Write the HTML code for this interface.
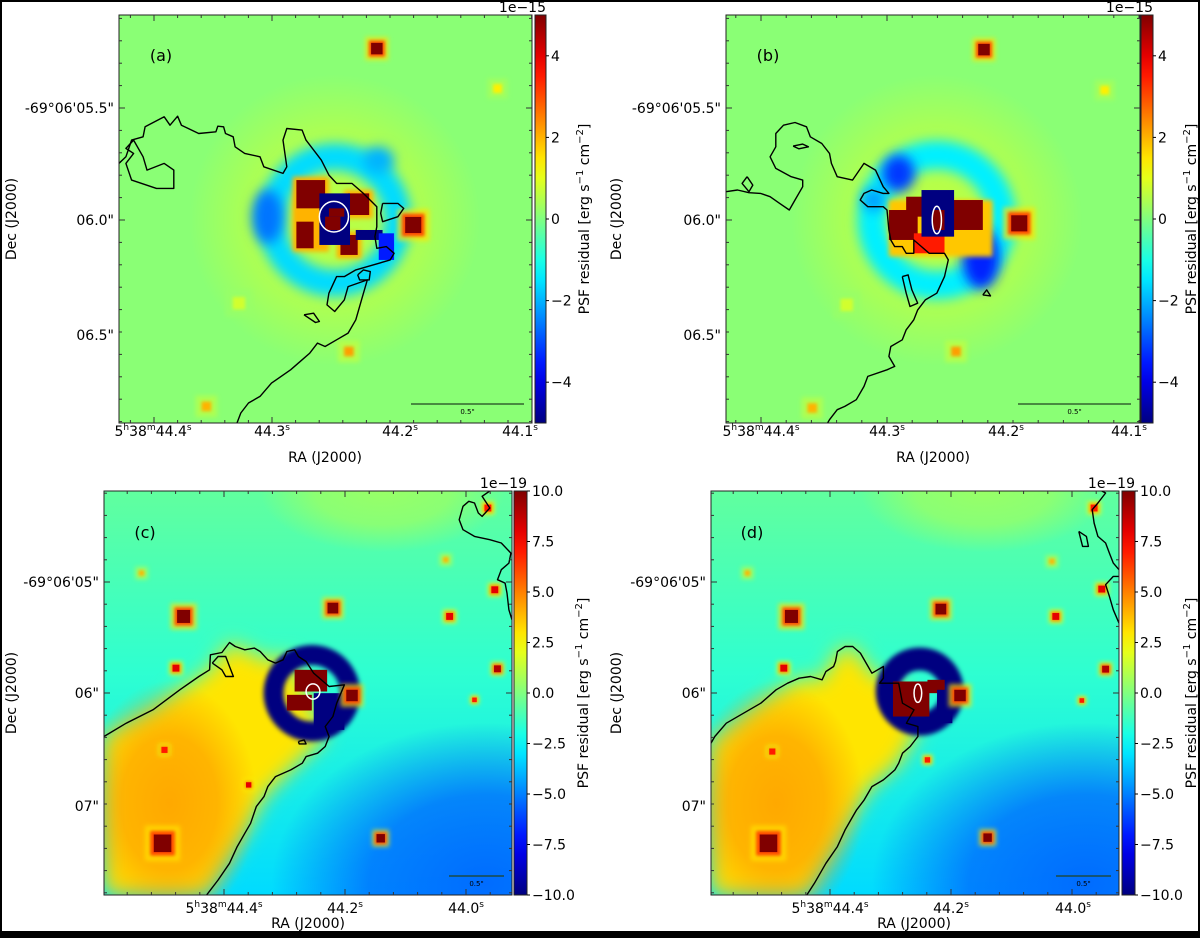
<!DOCTYPE html>
<html><head><meta charset="utf-8">
<style>
html,body{margin:0;padding:0;background:#fff;width:1200px;height:938px;overflow:hidden;}
#wrap{position:relative;width:1200px;height:938px;overflow:hidden;}
#fig{display:block;}
svg text{font-family:"DejaVu Sans","Liberation Sans",sans-serif;fill:#000;}
</style></head>
<body>
<div id="wrap">
<svg id="fig" width="1200" height="938" viewBox="0 0 1200 938" xmlns="http://www.w3.org/2000/svg">
<defs>
<filter id="blur6" x="-50%" y="-50%" width="200%" height="200%"><feGaussianBlur stdDeviation="6"/></filter>
<filter id="blur10" x="-10%" y="-10%" width="120%" height="120%"><feGaussianBlur stdDeviation="10"/></filter>
<filter id="blur3" x="-50%" y="-50%" width="200%" height="200%"><feGaussianBlur stdDeviation="2.5"/></filter>
<filter id="blur2" x="-50%" y="-50%" width="200%" height="200%"><feGaussianBlur stdDeviation="1.5"/></filter>
</defs>
</svg>
</div>
<script>
// ---------- data (sky-grid coordinates of the reference pixel grid) ----------
const aStars=[[985,145,30,5],[1080,675,42,5],[1300,265,26,1.4],[625,910,36,0.8],[912,1055,28,2.2],[540,1220,28,2.0]];
const aBlocks=[[765,530,860,755,2],[900,570,975,655,2],[880,695,945,775,2],[775,540,850,625,5],[910,580,965,645,5],[775,665,820,745,5],[890,705,935,765,5],[835,580,915,735,-5],[860,625,900,650,5],[850,650,890,690,5],[930,690,1000,720,-5],[990,700,1030,780,-3.5]];
const aRing=[875,660,165,70,-1.6];
const aBlobs=[[700,650,40,70,-2.6],[990,480,40,35,-2]];
const aContours=[
[[312,490],[330,470],[345,420],[375,410],[380,380],[430,350],[445,375],[465,348],[475,375],[520,400],[565,395],[570,378],[585,380],[590,400],[610,410],[615,440],[640,460],[680,470],[690,500],[740,520],[750,500],[740,420],[750,385],[790,390],[800,420],[840,480],[860,525],[880,550],[920,550],[950,580],[985,620],[985,680],[980,710],[985,745],[1010,740],[1030,760],[1020,780],[990,790],[930,810],[900,830],[880,830],[860,880],[855,915],[875,935],[900,900],[910,860],[960,840],[945,900],[930,960],[910,1000],[880,1020],[850,1040],[830,1030],[810,1060],[790,1080],[760,1110],[710,1150],[680,1190],[650,1210],[630,1240],[620,1270]],
[[350,420],[330,445],[350,460],[330,490],[345,540],[410,565],[455,565],[455,510],[430,490],[385,510],[375,470],[350,420]],
[[1000,610],[1040,610],[1055,625],[1040,650],[1000,665],[995,640],[1000,610]],
[[935,825],[950,810],[968,815],[965,840],[940,840],[935,825]],
[[795,945],[820,940],[835,965],[825,968],[795,945]]
];
const aWhite=[[873,650,38,40]];

const bStars=[[1003,148,30,5],[1095,670,42,5],[1318,270,26,1.4],[645,915,36,0.8],[930,1055,28,2.2],[555,1225,28,2.0]];
const bBlocks=[[755,600,1025,770,1.8],[755,630,830,720,5],[800,590,870,650,5],[900,600,1000,690,5],[820,700,900,760,3.5],[840,570,925,710,-5],[870,630,900,690,5]];
const bRing=[880,660,170,75,-1.4];
const bBlobs=[[780,520,42,48,-3.2],[995,775,48,80,-3.4],[715,600,30,30,-2.2]];
const bContours=[
[[330,575],[360,570],[390,578],[420,580],[445,590],[470,610],[495,630],[510,600],[530,560],[530,540],[500,530],[460,505],[445,470],[460,440],[460,400],[480,375],[510,367],[540,380],[550,410],[580,430],[600,460],[605,490],[620,530],[660,540],[690,490],[720,510],[740,560],[755,580],[740,580],[710,570],[690,580],[680,600],[700,620],[740,620],[750,630],[755,690],[760,720],[770,740],[790,740],[800,760],[820,760],[820,720],[840,740],[860,760],[900,760],[910,780],[900,830],[880,880],[850,900],[830,930],[820,960],[800,990],[790,1020],[760,1040],[755,1070],[770,1100],[750,1110],[700,1130],[690,1160],[670,1200],[640,1220],[620,1230],[600,1260],[595,1270]],
[[505,438],[530,432],[545,440],[520,446],[505,438]],
[[385,530],[400,555],[390,575],[372,550],[385,530]],
[[790,830],[805,825],[815,870],[830,910],[810,920],[800,880],[790,830]],
[[1000,885],[1010,870],[1020,888],[1000,885]]
];
const bWhite=[[880,660,12,36]];

const cStars=[[480,440,34,10],[870,415,28,10],[1175,440,18,8],[460,595,18,8],[1300,597,18,9],[1293,360,18,8],[1275,115,18,7],[1165,270,16,4],[370,310,16,4],[1240,690,12,7],[995,1105,22,10],[425,1120,46,10],[920,677,30,10],[650,945,14,8],[430,840,16,7]];
const cRing=[815,670,100,52,-10];
const cBlocks=[[770,600,855,665,10],[750,675,815,722,10],[820,670,900,780,-10]];
const cOrange=[[272,800],[400,720],[470,660],[548,600],[600,520],[700,570],[760,560],[850,800],[760,900],[690,980],[640,1090],[540,1275],[272,1275]];
const cContours=[
[[272,800],[330,760],[400,720],[470,660],[520,620],[548,600],[550,555],[580,548],[600,518],[615,530],[640,540],[665,535],[680,545],[700,570],[720,580],[740,570],[750,545],[770,540],[780,560],[800,575],[820,610],[860,650],[900,645],[880,700],[870,740],[850,770],[860,800],[850,830],[830,850],[800,860],[790,880],[760,900],[720,920],[700,950],[690,980],[670,1010],[655,1060],[640,1090],[620,1130],[600,1180],[570,1230],[540,1275]],
[[555,580],[570,560],[590,560],[600,590],[610,620],[590,620],[580,600],[555,580]],
[[1338,450],[1330,420],[1325,370],[1320,340],[1300,330],[1310,300],[1330,280],[1335,250],[1310,220],[1280,210],[1240,200],[1210,180],[1200,150],[1210,110],[1225,95],[1240,100],[1250,130],[1260,140],[1280,115],[1260,80],[1280,64]],
[[780,815],[795,810],[800,822],[782,822],[780,815]]
];
const cWhite=[[818,665,18,20]];

const dStars=[[500,440,34,10],[890,418,28,10],[1190,440,18,8],[480,595,18,8],[1320,598,18,9],[1310,358,18,8],[1290,115,18,7],[1180,275,16,4],[385,310,16,4],[1258,692,12,7],[1012,1103,22,10],[440,1120,46,10],[940,677,30,10],[855,870,14,7],[450,845,16,7]];
const dRing=[835,665,85,60,-10];
const dBlocks=[[765,635,860,740,10],[855,630,900,670,10],[880,660,920,760,-10]];
const dOrange=[[290,820],[420,700],[520,625],[580,630],[620,545],[660,530],[710,610],[780,640],[830,780],[780,880],[700,960],[640,1080],[540,1275],[290,1275]];
const dContours=[
[[290,820],[300,800],[330,760],[420,700],[460,660],[490,640],[520,625],[550,620],[580,630],[590,605],[610,590],[615,575],[620,545],[640,530],[660,530],[680,550],[700,590],[710,610],[740,590],[740,625],[730,640],[780,640],[790,700],[820,720],[800,760],[830,770],[830,800],[810,830],[790,850],[780,880],[770,900],[740,930],[710,950],[690,990],[670,1020],[660,1040],[640,1080],[620,1130],[590,1180],[560,1240],[540,1275]],
[[1355,460],[1340,420],[1330,380],[1320,345],[1340,320],[1355,320]],
[[1355,300],[1340,280],[1330,250],[1320,220],[1300,200],[1290,160],[1285,120],[1300,100],[1320,70],[1310,64]],
[[1250,185],[1260,230],[1275,230],[1270,200],[1250,185]]
];
const dWhite=[[830,670,10,24]];

// tick labels
const topYLabels=["-69°06'05.5\"","06.0\"","06.5\""];
const botYLabels=["-69°06'05\"","06\"","07\""];
const topXLabels=[["5","h","38","m","44.4","s"],["44.3","s"],["44.2","s"],["44.1","s"]];
const botXLabels=[["5","h","38","m","44.4","s"],["44.2","s"],["44.0","s"]];
const topCbTicks=[4,2,0,-2,-4];
const topCbLabels=["4","2","0","\u22122","\u22124"];
const botCbTicks=[10,7.5,5,2.5,0,-2.5,-5,-7.5,-10];
const botCbLabels=["10.0","7.5","5.0","2.5","0.0","\u22122.5","\u22125.0","\u22127.5","\u221210.0"];

// ---------- helpers ----------
const NS='http://www.w3.org/2000/svg';
const svg=document.getElementById('fig');
function jet(t){t=Math.max(0,Math.min(1,t));
 const c=v=>Math.round(255*Math.max(0,Math.min(1,v)));
 return `rgb(${c(1.5-Math.abs(4*t-3))},${c(1.5-Math.abs(4*t-2))},${c(1.5-Math.abs(4*t-1))})`;}
function mk(tag,attrs,parent){const e=document.createElementNS(NS,tag);for(const k in attrs)e.setAttribute(k,attrs[k]);(parent||svg).appendChild(e);return e;}

const panels=[
 {id:'a',box:[119,15,413,408],z:[312,1390,44,1270],vmax:5,stars:aStars,blocks:aBlocks,ring:aRing,blobs:aBlobs,contours:aContours,white:aWhite,top:true,cb:[535,11],
  yt:[108,220,335],xt:[154,272,400,520],xl:[153,272,400,520],cbl:584,decx:11,rax:325,tag:'(a)',tagpos:[161,55],sb:[411,524,404]},
 {id:'b',box:[726,15,414,408],z:[330,1410,44,1270],vmax:5,stars:bStars,blocks:bBlocks,ring:bRing,blobs:bBlobs,contours:bContours,white:bWhite,top:true,cb:[1141,12],
  yt:[108,220,335],xt:[761,887,1006,1129],xl:[761,887,1006,1129],cbl:1191,decx:616,rax:933,tag:'(b)',tagpos:[768,55],sb:[1018,1131,404]},
 {id:'c',box:[104,491,408,404],z:[272,1338,64,1275],vmax:10,stars:cStars,blocks:cBlocks,ring:cRing,orange:cOrange,contours:cContours,white:cWhite,top:false,cb:[514,13],
  yt:[582,693,806],xt:[224,345,466],xl:[224,345,466],cbl:583,decx:11,rax:308,tag:'(c)',tagpos:[145,532],sb:[449,504,876]},
 {id:'d',box:[711,491,408,404],z:[290,1355,64,1275],vmax:10,stars:dStars,blocks:dBlocks,ring:dRing,orange:dOrange,contours:dContours,white:dWhite,top:false,cb:[1122,13],
  yt:[582,693,806],xt:[830,951,1073],xl:[830,951,1073],cbl:1191,decx:616,rax:914,tag:'(d)',tagpos:[752,532],sb:[1056,1111,876]}
];

// frame
const fr=mk('rect',{x:1,y:1,width:1198,height:931,fill:'none',stroke:'#000','stroke-width':2});


const bb=mk('rect',{x:0,y:933,width:1200,height:5,fill:'#000'});



panels.forEach(p=>{
 const [bx,by,bw,bh]=p.box,[zx0,zx1,zy0,zy1]=p.z;
 const sx=v=>bx+(v-zx0)/(zx1-zx0)*bw;
 const sy=v=>by+(v-zy0)/(zy1-zy0)*bh;
 const sl=v=>v/(zx1-zx0)*bw;
 const col=v=>jet((v+p.vmax)/(2*p.vmax));
 const g=mk('g',{});
 
 
 const cp=mk('clipPath',{id:'clip'+p.id},g);
 mk('rect',{x:bx,y:by,width:bw,height:bh},cp);
 const img=mk('g',{'clip-path':`url(#clip${p.id})`},g);
 
 
 // soft radial field layer inside image box (never extends outside)
 let rgid=0;
 function soft(cx,cy,rx,ry,color,op,name){
  const id='rg'+p.id+(rgid++);
  const gr=mk('radialGradient',{id:id,gradientUnits:'userSpaceOnUse',cx:cx,cy:cy,r:rx,gradientTransform:`translate(${cx},${cy}) scale(1,${ry/rx}) translate(${-cx},${-cy})`},g);
  mk('stop',{offset:0,'stop-color':color,'stop-opacity':op},gr);
  mk('stop',{offset:0.55,'stop-color':color,'stop-opacity':op*0.8},gr);
  mk('stop',{offset:1,'stop-color':color,'stop-opacity':0},gr);
  const r=mk('rect',{x:bx,y:by,width:bw,height:bh,fill:`url(#${id})`},img);
  
  
 }
 if(p.top){
  mk('rect',{x:bx,y:by,width:bw,height:bh,fill:col(0.1)},img);
  soft(sx(p.ring[0]),sy(p.ring[1]),sl(380),sl(380),col(0.9),0.6,'halo');
 } else {
  const lg=mk('linearGradient',{id:'bg'+p.id,x1:0,y1:0,x2:0,y2:1},g);
  mk('stop',{offset:0,'stop-color':col(-0.6)},lg);
  mk('stop',{offset:0.45,'stop-color':col(-1.6)},lg);
  mk('stop',{offset:1,'stop-color':col(-3.2)},lg);
  mk('rect',{x:bx,y:by,width:bw,height:bh,fill:`url(#bg${p.id})`},img);
  soft(sx(1000),sy(64),sl(320),sl(160),col(1.2),0.6,'top-bright-patch');
  soft(sx(1270),sy(1240),sl(560),sl(420),col(-5.5),0.95,'blue-region');
  const or=mk('polygon',{points:p.orange.map(q=>sx(q[0])+','+sy(q[1])).join(' '),fill:col(3),filter:'url(#blur10)'},img);
  
  
  soft(sx(p.orange[0][0]+170),sy(1000),sl(230),sl(320),col(5),0.6,'emission-core');
 }
 // ring
 const rg=mk('circle',{cx:sx(p.ring[0]),cy:sy(p.ring[1]),r:sl(p.ring[2]),fill:'none',stroke:col(p.ring[4]),'stroke-width':sl(p.ring[3]),filter:p.top?'url(#blur6)':'url(#blur3)'},img);
 
 
 (p.blobs||[]).forEach(b=>{
  const e=mk('ellipse',{cx:sx(b[0]),cy:sy(b[1]),rx:sl(b[2]),ry:sl(b[3]),fill:col(b[4]),filter:'url(#blur6)'},img);
  
  
 });
 p.blocks.forEach(b=>{
  const sft=Math.abs(b[4])<p.vmax*0.5;
  const r=mk('rect',{x:sx(b[0]),y:sy(b[1]),width:sx(b[2])-sx(b[0]),height:sy(b[3])-sy(b[1]),fill:col(b[4])},img);
  if(sft) r.setAttribute('filter','url(#blur3)');
  
  
 });
 // stars
 p.stars.forEach(s=>{
  const sg=mk('g',{},img);
  
  
  const w=sl(s[2]);
  const x=sx(s[0]),y=sy(s[1]);
  mk('rect',{x:x-w,y:y-w,width:2*w,height:2*w,fill:col(s[3]*0.3),opacity:0.7,filter:'url(#blur3)'},sg);
  if(s[3]>=p.vmax*0.6){
   mk('rect',{x:x-w*0.7,y:y-w*0.7,width:1.4*w,height:1.4*w,fill:col(s[3]*0.6),filter:'url(#blur2)'},sg);
   mk('rect',{x:x-w/2,y:y-w/2,width:w,height:w,fill:col(s[3])},sg);
  } else {
   mk('rect',{x:x-w*0.45,y:y-w*0.45,width:0.9*w,height:0.9*w,fill:col(s[3]),filter:'url(#blur2)'},sg);
  }
 });
 // contours
 p.contours.forEach(c=>{
  const pl=mk('polyline',{points:c.map(q=>sx(q[0]).toFixed(1)+','+sy(q[1]).toFixed(1)).join(' '),fill:'none',stroke:'#000','stroke-width':1.4,'stroke-linejoin':'round'},img);
  
  
 });
 p.white.forEach(w=>{
  const e=mk('ellipse',{cx:sx(w[0]),cy:sy(w[1]),rx:sl(w[2]),ry:sl(w[3]),fill:'none',stroke:'#fff','stroke-width':1.5},img);
  
  
 });
 // frame
 mk('rect',{x:bx,y:by,width:bw,height:bh,fill:'none',stroke:'#222','stroke-width':1},g);
 // ticks
 const tk=mk('g',{stroke:'#333','stroke-width':1},g);
 
 
 const dx=p.xt[1]-p.xt[0], dy=p.yt[1]-p.yt[0];
 for(let x=p.xt[0]-dx;x<bx+bw;x+=dx/5){ if(x<bx)continue; const maj=p.xt.some(t=>Math.abs(t-x)<1); const L=maj?6:3;
  mk('line',{x1:x,y1:by+bh,x2:x,y2:by+bh-L},tk); mk('line',{x1:x,y1:by,x2:x,y2:by+L},tk);}
 for(let y=p.yt[0]-dy;y<by+bh;y+=dy/5){ if(y<by)continue; const maj=p.yt.some(t=>Math.abs(t-y)<1); const L=maj?6:3;
  mk('line',{x1:bx,y1:y,x2:bx+L,y2:y},tk); mk('line',{x1:bx+bw,y1:y,x2:bx+bw-L,y2:y},tk);}
 // y tick labels
 const yl=p.top?topYLabels:botYLabels;
 yl.forEach((t,i)=>{const e=mk('text',{x:bx-5,y:p.yt[i]+5,'text-anchor':'end','font-size':14},g);e.textContent=t;
  
  });
 // x tick labels
 const xl=p.top?topXLabels:botXLabels;
 const xly=p.top?436:913;
 xl.forEach((parts,i)=>{const e=mk('text',{x:p.xl[i],y:xly,'text-anchor':'middle','font-size':14},g);
  
  
  parts.forEach((s,j)=>{const ts=mk('tspan',{},e); ts.textContent=s; if(j%2==1){ts.setAttribute('font-size',9);ts.setAttribute('dy',-6);} else if(j>0){ts.setAttribute('dy',6);} });
 });
 const ra=mk('text',{x:p.rax,y:p.top?462:928,'text-anchor':'middle','font-size':14},g);ra.textContent='RA (J2000)';
 
 
 const dec=mk('text',{x:0,y:0,'text-anchor':'middle','font-size':14,transform:`translate(${p.decx+5},${by+bh/2}) rotate(-90)`},g);dec.textContent='Dec (J2000)';
 
 
 const tg=mk('text',{x:p.tagpos[0],y:p.tagpos[1]+6,'text-anchor':'middle','font-size':16},g);tg.textContent=p.tag;
 
 
 // scale bar
 const sbl=mk('line',{x1:p.sb[0],y1:p.sb[2],x2:p.sb[1],y2:p.sb[2],stroke:'#224422','stroke-width':1.3},g);
 
 
 const sbt=mk('text',{x:(p.sb[0]+p.sb[1])/2,y:p.sb[2]+10,'text-anchor':'middle','font-size':7,fill:'#224422'},g);sbt.textContent='0.5"';
 
 
 // colorbar
 const [cx,cw]=p.cb;
 const cg=mk('linearGradient',{id:'cb'+p.id,x1:0,y1:0,x2:0,y2:1},g);
 for(let i=0;i<=20;i++) mk('stop',{offset:i/20,'stop-color':jet(1-i/20)},cg);
 const cbr=mk('rect',{x:cx,y:by,width:cw,height:bh,fill:`url(#cb${p.id})`,stroke:'#222','stroke-width':1},g);
 
 
 const cyv=v=>by+(p.vmax-v)/(2*p.vmax)*bh;
 const ct=p.top?topCbTicks:botCbTicks, cl=p.top?topCbLabels:botCbLabels;
 ct.forEach((v,i)=>{mk('line',{x1:cx+cw,y1:cyv(v),x2:cx+cw+3,y2:cyv(v),stroke:'#000'},g);
  const e=mk('text',{x:cx+cw+5,y:cyv(v)+5,'font-size':14},g);e.textContent=cl[i];
  
  });
 const ex=mk('text',{x:cx+cw,y:by-3,'text-anchor':'end','font-size':14},g);ex.textContent=p.top?'1e\u221215':'1e\u221219';
 
 
 const lab=mk('text',{x:0,y:0,'text-anchor':'middle','font-size':14,transform:`translate(${p.cbl+5},${by+bh/2}) rotate(-90)`},g);
 
 
 [['PSF residual [erg s',0],['\u22121',1],[' cm',2],['\u22122',1],[']',2]].forEach(([s,k])=>{const t=mk('tspan',{},lab);t.textContent=s;
  if(k==1){t.setAttribute('font-size',10);t.setAttribute('dy',-6);} else if(k==2){t.setAttribute('dy',6);} });
});
</script>
</body></html>
